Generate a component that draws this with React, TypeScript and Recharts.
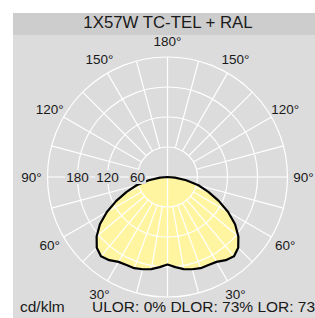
import { RadarChart, Radar, PolarGrid, PolarAngleAxis, PolarRadiusAxis } from "recharts"

// angle from nadir in degrees, one entry every 5°
const angles = [
  0, 5, 10, 15, 20, 25, 30, 35, 40, 45, 50, 55, 60, 65, 70, 75, 80, 85,
  90, 95, 100, 105, 110, 115, 120, 125, 130, 135, 140, 145, 150, 155, 160, 165, 170, 175,
  180, 185, 190, 195, 200, 205, 210, 215, 220, 225, 230, 235, 240, 245, 250, 255, 260, 265,
  270, 275, 280, 285, 290, 295, 300, 305, 310, 315, 320, 325, 330, 335, 340, 345, 350, 355,
]

// luminous intensity, cd/klm
const intensity = [
  175, 181, 187, 191, 194, 194, 196, 203, 207, 200, 185, 165, 140, 113, 87, 64, 38, 15,
  0, 0, 0, 0, 0, 0, 0, 0, 0, 0, 0, 0, 0, 0, 0, 0, 0, 0,
  0, 0, 0, 0, 0, 0, 0, 0, 0, 0, 0, 0, 0, 0, 0, 0, 0, 0,
  0, 15, 38, 64, 87, 113, 140, 165, 185, 200, 207, 203, 196, 194, 194, 191, 187, 181,
]

const ringTicks = [60, 120, 180, 240]
const gridStep = 15
const spokeStep = 10

const data = angles.map((a, i) => ({ angle: a, cd: intensity[i] }))
const gridAngles = angles.filter((a) => a % gridStep === 0).map((a) => -90 - a)

const FONT = '"Liberation Sans", Arial, sans-serif'
const PANEL = "#dcdcdc"
const HEADER = "#cdcdcd"
const FILL = "#fff5a0"

function AngleTick(props: any) {
  const { x, y, payload } = props
  const a = Number(payload.value)
  if (a === 0 || a % 30 !== 0) return null
  const label = a <= 180 ? a : 360 - a
  return (
    <text x={x} y={y} textAnchor="middle" dominantBaseline="central" fontSize={13.5} fill="#1a1a1a" fontFamily={FONT}>
      {label}°
    </text>
  )
}

function RadiusTick(props: any) {
  const { x, y, payload } = props
  const v = payload.value
  if (v >= 240) return null
  const w = String(v).length * 7.6 + 2
  return (
    <g>
      <rect x={x - w / 2} y={y - 7} width={w} height={14} fill={PANEL} />
      <text x={x} y={y} textAnchor="middle" dominantBaseline="central" fontSize={13.5} fill="#1a1a1a" fontFamily={FONT}>
        {v}
      </text>
    </g>
  )
}

function FillShape(props: any) {
  const points = props.points || []
  if (!points.length) return null
  const { cx, cy } = points[0]
  const ref = points.reduce((m: any, p: any) => (p.value > m.value ? p : m), points[0])
  const k = ref.radius / ref.value
  const inner = ringTicks[0] * k
  const at = (deg: number, r: number) => ({
    x: cx + r * Math.cos((-deg * Math.PI) / 180),
    y: cy + r * Math.sin((-deg * Math.PI) / 180),
  })
  const poly = points.map((p: any) => `${p.x},${p.y}`).join(" ")

  return (
    <g>
      <defs>
        <clipPath id="lumClip">
          <polygon points={poly} />
        </clipPath>
      </defs>
      <polygon points={poly} fill={FILL} stroke="none" />
      <g clipPath="url(#lumClip)">
        {ringTicks.slice(0, 3).map((v) => (
          <circle key={v} cx={cx} cy={cy} r={v * k} fill="none" stroke="#fff" strokeWidth={1.2} />
        ))}
      </g>
      {points.map((p: any, i: number) => {
        const a = p.payload.angle
        if (a % spokeStep !== 0 || p.radius <= inner) return null
        const s = a === 0 ? { x: cx, y: cy } : at(p.angle, inner)
        return <line key={"s" + i} x1={s.x} y1={s.y} x2={p.x} y2={p.y} stroke="#fff" strokeWidth={1.2} />
      })}
      {points.map((p: any, i: number) => {
        const a = p.payload.angle
        if (a !== 90 && a !== 180 && a !== 270) return null
        const e = at(p.angle, inner)
        return <line key={"c" + i} x1={cx} y1={cy} x2={e.x} y2={e.y} stroke="#fff" strokeWidth={1.2} />
      })}
      <polygon points={poly} fill="none" stroke="#000" strokeWidth={2.2} strokeLinejoin="round" />
    </g>
  )
}

export default function App() {
  const row = { position: "absolute" as const, top: 301, lineHeight: "12px", fontSize: 15.5, color: "#1a1a1a", whiteSpace: "nowrap" as const }
  return (
    <div style={{ position: "fixed", left: 0, top: 0, width: 315, height: 318, overflow: "hidden", background: "#fff", fontFamily: FONT }}>
      <div style={{ position: "absolute", left: 13, top: 13, right: 0, bottom: 0, background: PANEL }} />
      <div style={{ position: "absolute", left: 13, top: 13, right: 0, height: 22, background: HEADER }} />
      <div style={{ position: "absolute", left: 0, width: 336, top: 11, lineHeight: "23px", textAlign: "center", fontSize: 16.8, color: "#1a1a1a" }}>
        1X57W TC-TEL + RAL
      </div>
      <div style={{ position: "absolute", left: 0, top: 0 }}>
        <RadarChart width={315} height={318} cx={167.5} cy={177} innerRadius={30} outerRadius={120} startAngle={-90} endAngle={-450} data={data}>
          <PolarGrid gridType="circle" stroke="#fff" strokeWidth={1.2} polarAngles={gridAngles} />
          <Radar dataKey="cd" isAnimationActive={false} shape={FillShape} dot={false} />
          <PolarAngleAxis dataKey="angle" axisLine={false} tickLine={false} tickSize={16} tick={AngleTick} />
          <PolarRadiusAxis angle={180} domain={[60, 240]} allowDataOverflow ticks={ringTicks} axisLine={false} tickLine={false} tick={RadiusTick} />
        </RadarChart>
      </div>
      <div style={{ ...row, left: 20 }}>cd/klm</div>
      <div style={{ ...row, left: 92 }}>ULOR: 0% DLOR: 73% LOR: 73%</div>
    </div>
  )
}
